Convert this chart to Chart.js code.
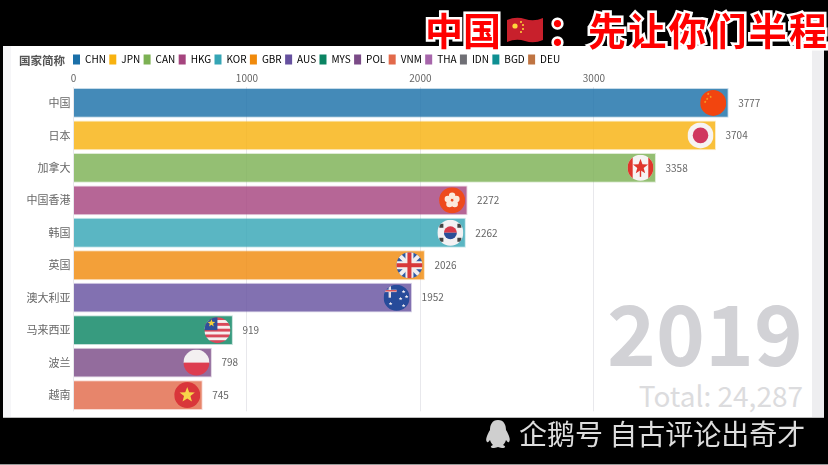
<!DOCTYPE html>
<html>
<head>
<meta charset="utf-8">
<script src="https://cdn.jsdelivr.net/npm/chart.js@4/dist/chart.umd.min.js"></script>
<style>
html, body { margin: 0; padding: 0; width: 828px; height: 465px; background: #000; overflow: hidden; font-family: "Noto Sans CJK SC", sans-serif; }
#panel { position: absolute; left: 3px; top: 46px; width: 821px; height: 371px; background: #fff; overflow: hidden; border-bottom: 1px solid #bbb; }
#stripL { position: absolute; left: 0; top: 0; width: 8px; height: 100%; background: #f6f6f8; }
#stripR { position: absolute; right: 0; top: 0; width: 12px; height: 100%; background: #eeeef0; }
#year { position: absolute; right: 21px; top: 243px; font-size: 83px; font-weight: 700; line-height: 1; color: #d2d2d6; }
#total { position: absolute; right: 21px; top: 335px; font-size: 28px; line-height: 1; color: #dcdcde; }
#chartBox { position: absolute; left: 0; top: 0; width: 828px; height: 465px; }
#nameLabel { position: absolute; left: 19px; top: 52px; font-size: 11.5px; font-weight: 700; color: #555; line-height: 16px; }
.head { position: absolute; top: 8px; font-size: 38px; font-weight: 700; line-height: 42px; color: #f00; -webkit-text-stroke: 5px #fff; paint-order: stroke fill; white-space: nowrap; }
#brand { position: absolute; left: 519px; top: 416px; font-size: 28px; line-height: 34px; color: #ddd; white-space: nowrap; }
#bottomLine { position: absolute; left: 0; top: 464px; width: 828px; height: 1px; background: #999; }
svg { position: absolute; }
</style>
</head>
<body>
<div id="panel">
  <div id="stripL"></div>
  <div id="stripR"></div>
  <div id="year">2019</div>
  <div id="total">Total: 24,287</div>
</div>
<div id="chartBox"><canvas id="chart" width="828" height="465"></canvas></div>
<div id="nameLabel">国家简称</div>
<div class="head" style="left:425px">中国</div>
<svg style="left:507px;top:16px" width="36" height="28" viewBox="0 0 36 28">
  <path d="M0 4 Q9 0 18 3 T36 2 V24 Q27 28 18 25 T0 26Z" fill="#c8202c"/>
  <circle cx="8" cy="10" r="2.6" fill="#ffd83a"/>
  <circle cx="14" cy="6" r="1" fill="#ffd83a"/><circle cx="16" cy="9" r="1" fill="#ffd83a"/>
  <circle cx="16" cy="13" r="1" fill="#ffd83a"/><circle cx="14" cy="16" r="1" fill="#ffd83a"/>
</svg>
<div class="head" style="left:548px">：</div>
<div class="head" style="left:588px;letter-spacing:2.2px">先让你们半程</div>
<svg style="left:484px;top:419px" width="28" height="30" viewBox="0 0 28 30">
  <path d="M14 1 C8 1 6 6 6 11 C3 16 1 21 3 23 C4 24 5 22 6 21 C7 24 8 25 9 26 C6 27 6 29 10 29 C12 29 13 28 14 28 C15 28 16 29 18 29 C22 29 22 27 19 26 C20 25 21 24 22 21 C23 22 24 24 25 23 C27 21 25 16 22 11 C22 6 20 1 14 1Z" fill="#cfcfcf"/>
</svg>
<div id="brand">企鹅号 自古评论出奇才</div>
<div id="bottomLine"></div>
<script>
// dados
const categories = ['中国', '日本', '加拿大', '中国香港', '韩国', '英国', '澳大利亚', '马来西亚', '波兰', '越南'];
const barCodes = ['CHN', 'JPN', 'CAN', 'HKG', 'KOR', 'GBR', 'AUS', 'MYS', 'POL', 'VNM'];
const barValues = [3777, 3704, 3358, 2272, 2262, 2026, 1952, 919, 798, 745];
const legendCodes = ['CHN', 'JPN', 'CAN', 'HKG', 'KOR', 'GBR', 'AUS', 'MYS', 'POL', 'VNM', 'THA', 'IDN', 'BGD', 'DEU'];
const legendColors = ['#1a6fa8', '#f8b20f', '#7cb153', '#a5447e', '#35a5b5', '#f08a0c', '#66519f', '#0a8462', '#7b4b87', '#e2694a', '#a766ab', '#6f6f75', '#0e8f92', '#bf7442'];
const tickValues = [0, 1000, 2000, 3000];

// Bandeiras
const stripes = (ctx, x, y, r, colors) => {
    const h = 2 * r / colors.length;
    colors.forEach((c, i) => {
        ctx.fillStyle = c;
        ctx.fillRect(x - r, y - r + i * h, 2 * r, h + 0.5);
    });
};
const star = (ctx, x, y, r, color) => {
    ctx.fillStyle = color;
    ctx.beginPath();
    for (let i = 0; i < 10; i++) {
        const a = -Math.PI / 2 + i * Math.PI / 5;
        const d = i % 2 ? r * 0.42 : r;
        ctx.lineTo(x + d * Math.cos(a), y + d * Math.sin(a));
    }
    ctx.closePath();
    ctx.fill();
};
const flags = {
    CHN: (ctx, x, y, r) => {
        stripes(ctx, x, y, r, ['#f2450f']);
        [[-5, -9], [-2.5, -6], [-6, -4], [-8, -1]].forEach(p => star(ctx, x + p[0], y + p[1], 1.4, '#f5b82a'));
    },
    JPN: (ctx, x, y, r) => {
        stripes(ctx, x, y, r, ['#f6f3f3']);
        ctx.fillStyle = '#d0375f';
        ctx.beginPath(); ctx.arc(x, y, r * 0.6, 0, 7); ctx.fill();
    },
    CAN: (ctx, x, y, r) => {
        stripes(ctx, x, y, r, ['#f6f3f3']);
        ctx.fillStyle = '#e0362c';
        ctx.fillRect(x - r, y - r, r * 0.4, 2 * r);
        ctx.fillRect(x + r * 0.6, y - r, r * 0.4, 2 * r);
        star(ctx, x, y - 1, 8, '#e0362c');
        ctx.fillRect(x - 0.7, y + 2, 1.4, 7);
    },
    HKG: (ctx, x, y, r) => {
        stripes(ctx, x, y, r, ['#ee4a1d']);
        ctx.fillStyle = '#fbe9dc';
        for (let i = 0; i < 5; i++) {
            const a = -Math.PI / 2 + i * 2 * Math.PI / 5;
            ctx.beginPath(); ctx.arc(x + 4.5 * Math.cos(a), y + 4.5 * Math.sin(a), 3.2, 0, 7); ctx.fill();
        }
    },
    KOR: (ctx, x, y, r) => {
        stripes(ctx, x, y, r, ['#f3f1f3']);
        ctx.fillStyle = '#d83a4a';
        ctx.beginPath(); ctx.arc(x, y, 6.5, Math.PI, 0); ctx.fill();
        ctx.fillStyle = '#2a4e97';
        ctx.beginPath(); ctx.arc(x, y, 6.5, 0, Math.PI); ctx.fill();
        ctx.fillStyle = '#444';
        [[-9, -7], [9, -7], [-9, 7], [9, 7]].forEach(p => ctx.fillRect(x + p[0] - 2, y + p[1] - 2, 4, 4));
    },
    GBR: (ctx, x, y, r) => {
        stripes(ctx, x, y, r, ['#2f5aa5']);
        ctx.lineCap = 'butt';
        ctx.strokeStyle = '#f2eeee';
        ctx.lineWidth = 4;
        ctx.beginPath();
        ctx.moveTo(x - r, y - r); ctx.lineTo(x + r, y + r);
        ctx.moveTo(x + r, y - r); ctx.lineTo(x - r, y + r);
        ctx.stroke();
        ctx.fillStyle = '#f2eeee';
        ctx.fillRect(x - 4, y - r, 8, 2 * r);
        ctx.fillRect(x - r, y - 4, 2 * r, 8);
        ctx.fillStyle = '#d8383a';
        ctx.fillRect(x - 2, y - r, 4, 2 * r);
        ctx.fillRect(x - r, y - 2, 2 * r, 4);
    },
    AUS: (ctx, x, y, r) => {
        stripes(ctx, x, y, r, ['#274b9a']);
        ctx.fillStyle = '#e5dfe6';
        ctx.fillRect(x - r, y - 8, r, 2.4);
        ctx.fillRect(x - 8, y - r, 2.4, r);
        ctx.fillStyle = '#d8383a';
        ctx.fillRect(x - r, y - 7.5, r, 1.2);
        [[7, -6], [10, -1], [4, 1], [7, 8], [-6, 6]].forEach(p => star(ctx, x + p[0], y + p[1], 2, '#f2eef2'));
    },
    MYS: (ctx, x, y, r) => {
        stripes(ctx, x, y, r, ['#d9475a', '#f6eef0', '#d9475a', '#f6eef0', '#d9475a', '#f6eef0', '#d9475a', '#f6eef0', '#d9475a']);
        ctx.fillStyle = '#2f4f9a';
        ctx.fillRect(x - r, y - r, r, r);
        star(ctx, x - 6, y - 7, 4, '#f5d03a');
    },
    POL: (ctx, x, y, r) => stripes(ctx, x, y, r, ['#f3f0f1', '#dd3d50']),
    VNM: (ctx, x, y, r) => {
        stripes(ctx, x, y, r, ['#d9363a']);
        star(ctx, x, y, 8, '#f7d54a');
    }
};

// Plugin: posição da legenda, rótulos de valor e bandeiras
const barExtras = {
    id: 'barExtras',
    afterLayout(chart) {
        const legend = chart.legend;
        legend.left = 69.6;
        legend.top += 3.7;
        legend.bottom += 3.7;
    },
    afterDatasetsDraw(chart) {
        const { ctx, scales: { x, y } } = chart;
        ctx.save();
        barValues.forEach((value, i) => {
            const end = x.getPixelForValue(value);
            const mid = y.getPixelForValue(i);
            const r = 13;
            const cx = end - 15.5;
            ctx.save();
            ctx.beginPath();
            ctx.arc(cx, mid, r, 0, 7);
            ctx.clip();
            flags[barCodes[i]](ctx, cx, mid, r);
            ctx.restore();
            ctx.fillStyle = '#666';
            ctx.font = '10px "Noto Sans CJK SC"';
            ctx.textAlign = 'left';
            ctx.textBaseline = 'middle';
            ctx.fillText(String(value), end + 9.5, mid);
        });
        ctx.restore();
    }
};

const datasets = barCodes.map((code, idx) => ({
    label: code,
    data: barValues.map((v, i) => (i === idx ? v : null)),
    backgroundColor: legendColors[legendCodes.indexOf(code)] + 'd0',
    borderColor: legendColors[legendCodes.indexOf(code)] + '40',
    borderWidth: 1,
    categoryPercentage: 1,
    barPercentage: 0.92
}));

new Chart(document.getElementById('chart'), {
    type: 'bar',
    data: { labels: categories, datasets },
    plugins: [barExtras],
    options: {
        indexAxis: 'y',
        responsive: false,
        animation: false,
        layout: { padding: { top: 47.3, left: 0, right: 78, bottom: 53.7 } },
        scales: {
            x: {
                position: 'top',
                min: 0,
                max: 3900,
                afterBuildTicks: (axis) => { axis.ticks = tickValues.map(v => ({ value: v })); },
                ticks: {
                    color: '#666',
                    font: { size: 10, family: '"Noto Sans CJK SC"' },
                    padding: 2,
                    maxRotation: 0,
                    callback: (value) => String(value)
                },
                grid: { color: '#e8e8ec', drawTicks: false },
                border: { display: false }
            },
            y: {
                stacked: true,
                afterFit: (axis) => { axis.width = 73.5; },
                ticks: { color: '#666', font: { size: 11, family: '"Noto Sans CJK SC"' }, padding: 3 },
                grid: { display: false, drawTicks: false },
                border: { display: false }
            }
        },
        plugins: {
            tooltip: { enabled: false },
            legend: {
                position: 'top',
                align: 'start',
                labels: {
                    boxWidth: 7,
                    boxHeight: 10,
                    useBorderRadius: true,
                    borderRadius: 2,
                    padding: 3.4,
                    color: '#777',
                    font: { size: 10, family: '"Noto Sans CJK SC"' },
                    generateLabels: () => legendCodes.map((code, i) => ({
                        text: code,
                        fillStyle: legendColors[i],
                        strokeStyle: legendColors[i],
                        lineWidth: 0,
                        hidden: false,
                        datasetIndex: i
                    }))
                }
            }
        }
    }
});
</script>
</body>
</html>
